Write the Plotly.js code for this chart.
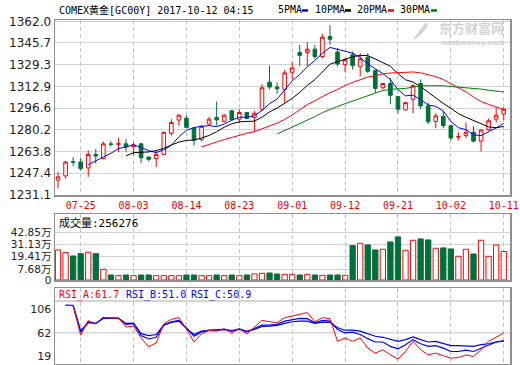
<!DOCTYPE html>
<html><head><meta charset="utf-8">
<script src="https://cdn.plot.ly/plotly-3.0.1.min.js"></script>
<style>html,body{margin:0;padding:0;background:#fff;}#chart{width:520px;height:365px;}</style>
</head><body><div id="chart"></div>
<script>
// ---------------- data ----------------
const dates = ['07-20','07-21','07-24','07-25','07-26','07-27','07-28','07-31','08-01','08-02',
 '08-03','08-04','08-07','08-08','08-09','08-10','08-11','08-14','08-15','08-16',
 '08-17','08-18','08-21','08-22','08-23','08-24','08-25','08-28','08-29','08-30',
 '08-31','09-01','09-04','09-05','09-06','09-07','09-08','09-11','09-12','09-13',
 '09-14','09-15','09-18','09-19','09-20','09-21','09-22','09-25','09-26','09-27',
 '09-28','09-29','10-02','10-03','10-04','10-05','10-06','10-09','10-10','10-11'];

const openP = [1242.2,1245.4,1256.2,1255.9,1251.4,1261.6,1258.4,1269.4,1269.3,1269.6,
 1267.3,1269.6,1259.6,1258.4,1261.6,1277.5,1287.5,1289.0,1281.5,1272.8,
 1284.5,1289.5,1286.5,1294.5,1288.2,1293.2,1289.5,1295.7,1316.1,1312.4,
 1310.6,1323.6,1338.5,1338.5,1341.0,1335.5,1350.5,1338.8,1329.3,1336.8,
 1328.1,1334.8,1324.8,1311.9,1315.1,1305.2,1295.2,1303.2,1315.1,1298.2,
 1286.5,1290.2,1283.3,1274.8,1275.8,1278.3,1271.6,1280.3,1288.2,1292.0];
const highP = [1248.4,1256.6,1259.6,1259.1,1264.6,1265.8,1271.3,1271.6,1274.0,1273.3,
 1270.8,1270.3,1260.1,1264.6,1278.8,1288.2,1292.0,1291.2,1282.0,1283.8,
 1290.0,1301.4,1292.0,1295.2,1295.7,1293.7,1294.5,1314.4,1328.6,1316.1,
 1325.6,1331.8,1344.3,1346.3,1344.3,1352.5,1359.2,1341.8,1334.3,1339.3,
 1338.0,1338.0,1325.6,1315.6,1319.4,1305.7,1301.2,1314.4,1318.1,1300.7,
 1292.7,1294.5,1283.8,1278.3,1285.7,1282.8,1280.8,1288.7,1297.0,1297.0];
const lowP = [1235.9,1243.4,1252.9,1249.6,1244.7,1254.6,1257.9,1267.6,1263.3,1263.8,
 1260.9,1255.1,1256.4,1252.1,1261.6,1275.8,1283.3,1281.5,1268.3,1271.3,
 1283.3,1283.3,1285.7,1287.5,1285.0,1288.2,1278.3,1294.5,1310.6,1307.4,
 1300.7,1318.1,1328.1,1328.1,1333.6,1334.3,1344.3,1328.1,1323.6,1325.6,
 1320.6,1323.1,1308.2,1310.6,1299.4,1292.7,1294.5,1292.7,1295.7,1284.5,
 1281.3,1281.3,1272.5,1272.1,1274.0,1270.8,1263.8,1279.5,1285.7,1287.5];
const closeP = [1244.7,1255.9,1255.8,1250.9,1261.6,1260.4,1269.6,1269.3,1269.6,1267.3,
 1268.8,1259.1,1257.9,1261.6,1278.3,1285.7,1291.2,1282.0,1272.5,1282.8,
 1288.2,1287.7,1291.2,1287.7,1293.2,1288.7,1292.7,1311.9,1312.4,1311.1,
 1323.1,1326.8,1336.3,1341.0,1335.5,1350.0,1348.5,1329.8,1333.1,1328.6,
 1333.6,1324.3,1311.4,1315.1,1306.2,1295.7,1300.7,1313.6,1298.2,1286.2,
 1290.7,1283.3,1274.0,1275.0,1278.3,1271.6,1280.0,1287.0,1291.2,1295.7];

// moving-average lines (each ends on the last date)
const ma5 = [1253.8,1256.9,1259.7,1262.4,1266.1,1267.2,1268.9,1266.8,1264.5,1262.9,
 1265.1,1268.5,1274.9,1279.8,1281.9,1282.8,1283.3,1282.6,1284.5,1287.5,
 1289.6,1289.7,1290.7,1294.8,1299.8,1303.4,1310.2,1317.1,1321.9,1327.7,
 1332.5,1337.9,1342.3,1341.0,1339.4,1338.0,1334.7,1329.9,1326.2,1322.6,
 1318.1,1310.5,1305.8,1306.3,1302.9,1298.9,1297.9,1294.4,1286.5,1281.8,
 1280.3,1276.4,1275.8,1278.4,1281.6,1285.1];
const ma10 = [1260.5,1262.9,1263.2,1263.5,1264.5,1266.2,1268.7,1270.9,1272.2,1272.4,
 1274.0,1275.9,1278.8,1282.1,1284.7,1286.2,1286.5,1286.7,1289.7,1293.7,
 1296.5,1300.0,1303.9,1308.4,1313.7,1318.0,1324.1,1329.7,1331.5,1333.5,
 1335.3,1336.3,1336.1,1333.6,1331.0,1328.1,1322.6,1317.9,1316.2,1312.7,
 1308.5,1304.2,1300.1,1296.4,1292.4,1289.6,1287.2,1285.1,1282.4,1281.7,1282.7];
const ma20 = [1267.3,1269.4,1271.0,1272.8,1274.6,1276.2,1277.6,1278.8,1280.9,1283.0,
 1285.2,1288.0,1291.3,1295.3,1299.2,1302.1,1305.3,1308.2,1310.6,1313.6,
 1315.9,1318.1,1320.0,1321.0,1322.4,1323.0,1323.4,1323.8,1323.8,1323.1,
 1321.9,1320.3,1318.1,1315.0,1311.7,1308.8,1304.9,1301.5,1299.3,1297.2,1295.6];
const ma30 = [1277.0,1279.6,1282.0,1284.7,1287.7,1290.1,1293.1,1295.7,1297.8,1299.9,
 1301.9,1304.1,1306.2,1308.0,1309.8,1310.7,1311.1,1311.4,1312.4,1313.3,
 1313.4,1313.5,1313.4,1312.8,1312.4,1311.9,1311.3,1310.9,1310.0,1309.3,1308.8];

// volume (contracts)
const volume = [270000,246000,216000,237000,249000,237000,96000,45000,39000,45000,
 39000,45000,45000,39000,39000,39000,39000,45000,45000,39000,
 39000,45000,39000,45000,39000,45000,55000,60000,63000,54000,
 51000,51000,45000,51000,45000,42000,45000,45000,42000,309000,
 330000,315000,270000,276000,342000,387000,267000,357000,369000,360000,
 285000,288000,279000,213000,276000,234000,357000,213000,315000,256276];

// RSI lines (start on the second date)
const rsiA = [100,99.5,59,79,74,83.5,82.5,82.5,70,71.3,55,43,48,74.6,80.7,83,67.6,49.4,60.6,
 65.3,64.3,67.6,62,67.6,60.6,70,79.3,77.4,76,83,85.4,88.6,90,77.4,83,81.6,50.3,55,50.3,
 55,41,34,38.6,31.6,26,36.3,50.3,38.6,31.6,34,30.2,27,27.9,31.6,29.3,38.6,50.3,56.4,61.7];
const rsiB = [100,99.8,63,77,75,83,82.5,82.5,73.7,74.6,58.3,53.6,56,72.7,77.4,79.3,69,57.3,63.4,
 65.7,66.2,67.1,64.3,67.6,63.4,67.6,72.7,72.7,73.7,78.3,80.2,82.1,81.6,76,79.3,78.3,66.7,62,62.9,
 59.7,54,49.4,49.4,43.3,40,45.7,52.7,47,43.3,44.3,41,36.3,36.3,38.2,36.3,41,45.7,49.4,51.0];
const rsiC = [100,99.9,65,76,75,82,82,82,75,75.5,61,58.3,59.7,72.7,76.5,78.3,68,59.7,64.3,
 65.7,66.2,66.6,65.3,67.1,64.3,66.6,70.9,71.3,72.3,75.1,77.4,78.3,78.3,75.1,76.9,76.5,69,65.7,65.7,
 64.3,60.6,57.3,55.9,52.7,50.3,52.7,56.4,52.7,49.4,50.3,47,44.3,44.3,44.3,43.3,45.7,47,49.4,50.9];

// axis tick labels
const dateTicks = ['07-25','08-03','08-14','08-23','09-01','09-12','09-21','10-02','10-11'];
const priceTicks = [1231.1,1247.4,1263.8,1280.2,1296.6,1312.9,1329.3,1345.7,1362.0];
const volTickText = ['0','7.68万','19.41万','31.13万','42.85万'];
const rsiTickText = ['19','62','106'];
const titleText = 'COMEX黄金[GC00Y] 2017-10-12 04:15';
const maNames = ['5PMA','10PMA','20PMA','30PMA'];

// ---------------- styles & geometry ----------------
const W=520,H=365,ML=55,MR=10,MT=20,MB=1;
const PW=W-ML-MR, PH=H-MT-MB;
const px = x => (x-ML)/PW;
const py = y => (H-MB-y)/PH;
const RED='#ff0000', GREEN='#00703a', BLUE='#0000ff';
const maColors=[BLUE,'#000000',RED,'#008000'];
const MONO='DejaVu Sans Mono, Noto Sans CJK SC, monospace';
const SANS='DejaVu Sans, Noto Sans CJK SC, sans-serif';
const borderC='#8f8f8f', gridC='#d2d2d2';
// label/grid rows of the lower panels as drawn in the reference (pixel rows)
const VOL_TOP=214, VOL_BOT=280, VOL_MAX=593000;
const volRows=[280,269,256.7,244,232.3];
const volTickVals = volRows.map(r=>(VOL_BOT-r)/(VOL_BOT-VOL_TOP)*VOL_MAX);
const rsiTickVals = [30.5,62,94.6];

const tail = n => dates.slice(dates.length-n);
const up = closeP.map((c,i)=>c>=openP[i]);

const traces = [
 {type:'candlestick', x:dates, open:openP, high:highP, low:lowP, close:closeP,
  xaxis:'x', yaxis:'y', hoverinfo:'skip', whiskerwidth:0,
  increasing:{line:{color:RED,width:1}, fillcolor:'#ffffff'},
  decreasing:{line:{color:GREEN,width:1}, fillcolor:GREEN}},
];
[ma5,ma10,ma20,ma30].forEach((m,k)=>traces.push({type:'scatter',mode:'lines',x:tail(m.length),y:m,
  xaxis:'x',yaxis:'y',line:{color:maColors[k],width:1},hoverinfo:'skip'}));
traces.push({type:'bar', x:dates, y:volume, xaxis:'x2', yaxis:'y2', hoverinfo:'skip',
  marker:{color:up.map(u=>u?'#ffffff':GREEN), line:{color:up.map(u=>u?RED:GREEN), width:1}}});
traces.push({type:'scatter',mode:'lines',x:tail(rsiC.length),y:rsiC,xaxis:'x3',yaxis:'y3',line:{color:BLUE,width:1.2},hoverinfo:'skip'});
traces.push({type:'scatter',mode:'lines',x:tail(rsiB.length),y:rsiB,xaxis:'x3',yaxis:'y3',line:{color:BLUE,width:1.2},hoverinfo:'skip'});
traces.push({type:'scatter',mode:'lines',x:tail(rsiA.length),y:rsiA,xaxis:'x3',yaxis:'y3',line:{color:RED,width:1},hoverinfo:'skip'});

const xBase = {type:'category', categoryorder:'array', categoryarray:dates, range:[-0.4,59.83],
  tickvals:dateTicks, ticktext:dateTicks, showgrid:true, gridcolor:'#c4c4c4', griddash:'4px,3px', gridwidth:1,
  ticks:'', showline:true, mirror:true, linecolor:borderC, linewidth:1.5, zeroline:false, fixedrange:true};
const yBase = {showline:true, mirror:true, linecolor:borderC, linewidth:1.5, zeroline:false, ticks:'',
  fixedrange:true, gridcolor:gridC, gridwidth:1};

const annotations = [
 {text:titleText, x:px(57), y:py(9.5), xref:'paper', yref:'paper', xanchor:'left', yanchor:'middle', showarrow:false, font:{family:MONO,size:10,color:'#000'}},
 {text:'成交量:'+volume[volume.length-1], x:px(57), y:py(223), xref:'paper', yref:'paper', xanchor:'left', yanchor:'middle', showarrow:false, font:{family:MONO,size:11,color:'#000'}},
 {text:'RSI_A:'+rsiA[rsiA.length-1].toFixed(1), x:px(57), y:py(294.5), xref:'paper', yref:'paper', xanchor:'left', yanchor:'middle', showarrow:false, font:{family:MONO,size:10,color:RED}},
 {text:'RSI_B:'+rsiB[rsiB.length-1].toFixed(1), x:px(124), y:py(294.5), xref:'paper', yref:'paper', xanchor:'left', yanchor:'middle', showarrow:false, font:{family:MONO,size:10,color:BLUE}},
 {text:'RSI_C:'+rsiC[rsiC.length-1].toFixed(1), x:px(189), y:py(294.5), xref:'paper', yref:'paper', xanchor:'left', yanchor:'middle', showarrow:false, font:{family:MONO,size:10,color:BLUE}},
 {text:'<b>东方财富网</b>', x:px(471), y:py(27), xref:'paper', yref:'paper', xanchor:'center', yanchor:'middle', showarrow:false, font:{family:'Noto Sans CJK SC',size:13,color:'#d4d4d4'}},
 {text:'<b>eastmoney.com</b>', x:px(473), y:py(42.5), xref:'paper', yref:'paper', xanchor:'center', yanchor:'middle', showarrow:false, font:{family:'DejaVu Sans',size:7,color:'#d4d4d4'}},
];
const maLabelX=[276,313,355,398], maDashX=[302,345,388,431];
const shapes = [
 {type:'line', xref:'x3 domain', yref:'y3', x0:0, x1:1, y0:106, y1:106, line:{color:'#a8a8a8',width:1}, layer:'below'},
 {type:'line', xref:'x3 domain', yref:'y3', x0:0, x1:1, y0:62, y1:62, line:{color:'#c4c4c4',width:1}, layer:'below'},
 {type:'path', xref:'paper', yref:'paper', path:`M ${px(426)} ${py(22)} Q ${px(418)} ${py(32)} ${px(413)} ${py(40)} Q ${px(421)} ${py(36)} ${px(428)} ${py(26)} Z`, fillcolor:'#d4d4d4', line:{width:0}},
];
maNames.forEach((n,k)=>{
  annotations.push({text:n, x:px(maLabelX[k]), y:py(9.5), xref:'paper', yref:'paper', xanchor:'left', yanchor:'middle', showarrow:false, font:{family:MONO,size:10,color:'#000'}});
  shapes.push({type:'rect', xref:'paper', yref:'paper', x0:px(maDashX[k]), x1:px(maDashX[k]+6), y0:py(11.7), y1:py(9.2), fillcolor:maColors[k], line:{width:0}});
});

const layout = {
 width:W, height:H, margin:{l:ML,r:MR,t:MT,b:MB,pad:0}, paper_bgcolor:'#fff', plot_bgcolor:'#fff',
 showlegend:false, bargap:0.3, boxgap:0.32,
 font:{family:SANS,size:12,color:'#222'},
 xaxis:Object.assign({}, xBase, {anchor:'y', domain:[0,1], showticklabels:true, rangeslider:{visible:false},
   tickfont:{family:MONO,size:10,color:'#ee0000'}}),
 xaxis2:Object.assign({}, xBase, {anchor:'y2', domain:[0,1], showticklabels:false}),
 xaxis3:Object.assign({}, xBase, {anchor:'y3', domain:[0,1], showticklabels:false}),
 yaxis:Object.assign({}, yBase, {anchor:'x', domain:[py(195),1], range:[1231.0,1363.0], tickvals:priceTicks, tickformat:'.1f',
   showgrid:true, tickfont:{family:SANS,size:12,color:'#222'}}),
 yaxis2:Object.assign({}, yBase, {anchor:'x2', domain:[py(VOL_BOT),py(VOL_TOP)], range:[0,VOL_MAX], tickvals:volTickVals, ticktext:volTickText,
   showgrid:true, tickfont:{family:SANS,size:10.5,color:'#222'}}),
 yaxis3:Object.assign({}, yBase, {anchor:'x3', domain:[0,py(288)], range:[19,124], tickvals:rsiTickVals, ticktext:rsiTickText,
   showgrid:false, tickfont:{family:SANS,size:11,color:'#222'}}),
 annotations:annotations, shapes:shapes,
};
Plotly.newPlot('chart', traces, layout, {staticPlot:true, displayModeBar:false});
</script></body></html>
